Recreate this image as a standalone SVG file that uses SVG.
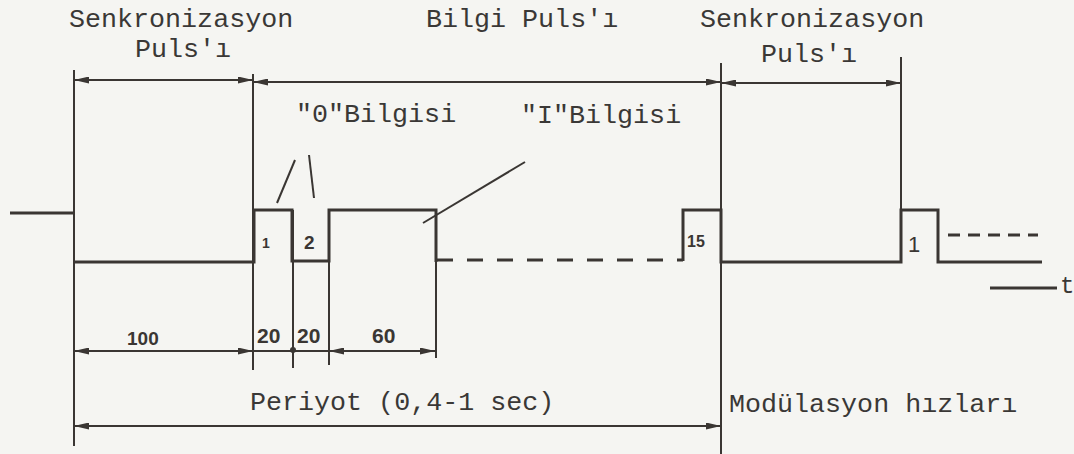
<svg xmlns="http://www.w3.org/2000/svg" width="1074" height="454" viewBox="0 0 1074 454">
<defs>
<marker id="ah" markerUnits="userSpaceOnUse" markerWidth="15" markerHeight="7" refX="15" refY="3.5" orient="auto-start-reverse"><path d="M0,0 L15,3.5 L0,7 z" fill="#3a3633"/></marker>
</defs>
<style>
.t{font-family:"Liberation Mono","DejaVu Sans Mono",monospace;font-size:26.7px;fill:#3a3836}
.h{font-family:"Liberation Sans",Arial,sans-serif;font-weight:bold;fill:#3a3633}
.ln{stroke:#3a3633;stroke-width:2;fill:none}
.w{stroke:#3a3633;stroke-width:3;fill:none;stroke-linejoin:miter}
.dim{stroke:#3a3633;stroke-width:2;fill:none;marker-start:url(#ah);marker-end:url(#ah)}
</style>
<rect width="1074" height="454" fill="#f5f5f2"/>
<g id="labels">
<text class="t" x="69" y="27">Senkronizasyon</text>
<text class="t" x="135" y="57">Puls'ı</text>
<text class="t" x="426" y="27">Bilgi Puls'ı</text>
<text class="t" x="700" y="27">Senkronizasyon</text>
<text class="t" x="761" y="62">Puls'ı</text>
<text class="t" x="296" y="122">"0"Bilgisi</text>
<text class="t" x="521" y="123">"I"Bilgisi</text>
<text class="t" x="250" y="410">Periyot (0,4-1 sec)</text>
<text class="t" x="729" y="412">Modülasyon hızları</text>
<text class="t" x="1060" y="293" style="font-size:24px">t</text>
</g>
<g id="guides">
<path class="ln" d="M74,70 V446"/>
<path class="ln" d="M253,74 V370"/>
<path class="ln" d="M721,63 V454"/>
<path class="ln" d="M901,57 V210"/>
<path class="ln" d="M293,210 V368"/>
<path class="ln" d="M329,210 V365"/>
<path class="ln" d="M436,210 V358"/>
</g>
<g id="waveform">
<path class="w" d="M10,213 H74"/>
<path class="w" d="M74,262 H254 V210 H292 V261 H329 V210 H436 V262"/>
<path class="w" d="M437,260 H683" stroke-dasharray="16 14"/>
<path class="w" d="M683,261 V210 H721 V262 H901 V210 H938 V262 H1042"/>
<path class="w" d="M948,235 H1038" stroke-dasharray="12 8"/>
<path class="w" d="M990,288 H1057"/>
<text class="h" x="262" y="248" style="font-size:14px">1</text>
<text class="h" x="304" y="249" style="font-size:19px">2</text>
<text class="h" x="687" y="247" style="font-size:16px">15</text>
<text class="h" x="908" y="252" style="font-size:22px;font-weight:normal">1</text>
</g>
<g id="pointers">
<path class="ln" d="M277,203 L295,160" stroke-width="2.5"/>
<path class="ln" d="M309,155 L314,198" stroke-width="2.5"/>
<path class="ln" d="M423,223 L525,162" stroke-width="2.5"/>
</g>
<g id="connectors">
<path class="dim" d="M74,80 H253"/>
<path class="dim" d="M253,82 H721"/>
<path class="dim" d="M721,83 H901"/>
<path class="dim" d="M74,351 H253"/>
<path class="ln" d="M253,351 H329"/>
<circle cx="293" cy="350" r="3" fill="#3a3633"/>
<path class="dim" d="M329,351 H435"/>
<path class="dim" d="M74,426 H721"/>
</g>
<g id="dim-values">
<text class="h" x="127" y="345" style="font-size:19px">100</text>
<text class="h" x="257" y="343" style="font-size:21px">20</text>
<text class="h" x="297" y="343" style="font-size:21px">20</text>
<text class="h" x="372" y="343" style="font-size:21px">60</text>
</g>
</svg>
